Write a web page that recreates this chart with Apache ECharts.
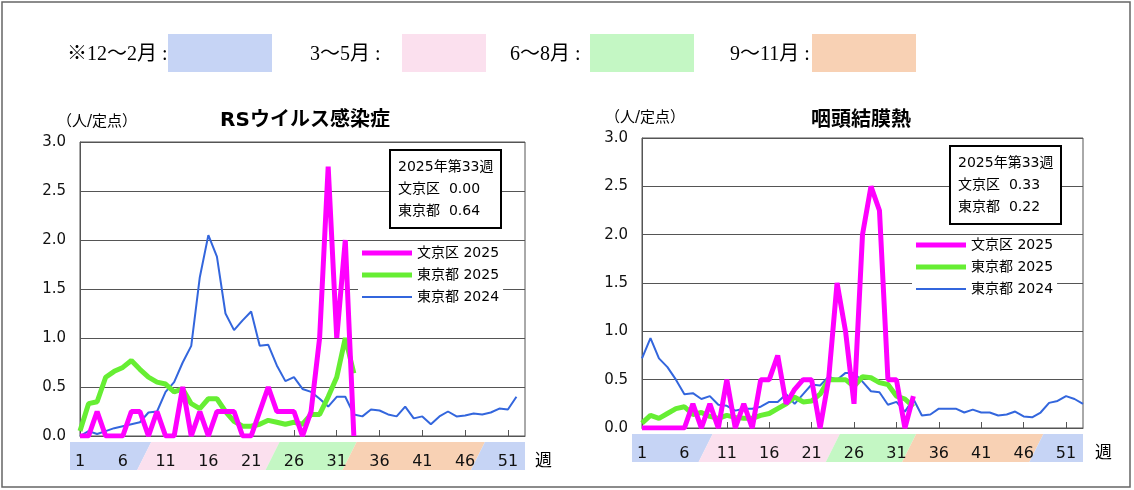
<!DOCTYPE html>
<html><head><meta charset="utf-8">
<script src="https://cdn.jsdelivr.net/npm/echarts@6/dist/echarts.min.js"></script>
<style>html,body{margin:0;padding:0;background:#fff}#c{width:1134px;height:490px}</style>
</head><body><div id="c"></div>
<script>
const tickWeeks = [1,6,11,16,21,26,31,36,41,46,51];
const rsBunkyo2025 = [0,0,0.25,0,0,0,0.25,0.25,0,0.25,0,0,0.5,0,0.25,0,0.25,0.25,0.25,0,0,0.25,0.5,0.25,0.25,0.25,0,0.25,1.0,2.75,1.0,2.0,0];
const rsTokyo2025 = [0.05,0.33,0.35,0.6,0.66,0.7,0.77,0.68,0.6,0.55,0.53,0.45,0.48,0.33,0.28,0.38,0.38,0.25,0.15,0.1,0.1,0.12,0.16,0.14,0.12,0.14,0.12,0.22,0.22,0.4,0.6,1.0,0.64];
const rsTokyo2024 = [0,0.05,0.02,0.05,0.08,0.1,0.12,0.14,0.24,0.25,0.45,0.55,0.75,0.92,1.62,2.05,1.83,1.25,1.08,1.18,1.27,0.92,0.93,0.72,0.56,0.6,0.48,0.45,0.38,0.3,0.4,0.4,0.22,0.2,0.27,0.26,0.22,0.2,0.3,0.18,0.2,0.12,0.2,0.25,0.2,0.21,0.23,0.22,0.24,0.28,0.27,0.4];
const pcBunkyo2025 = [0,0,0,0,0,0,0.25,0,0.25,0,0.5,0,0.25,0,0.5,0.5,0.75,0.25,0.4,0.5,0.5,0,0.5,1.5,1.0,0.25,2.0,2.5,2.25,0.5,0.5,0,0.33];
const pcTokyo2025 = [0.05,0.13,0.1,0.15,0.2,0.22,0.14,0.16,0.12,0.1,0.13,0.11,0.1,0.1,0.13,0.15,0.2,0.25,0.32,0.27,0.28,0.35,0.5,0.5,0.5,0.43,0.53,0.52,0.47,0.45,0.33,0.3,0.22];
const pcTokyo2024 = [0.72,0.93,0.72,0.63,0.5,0.35,0.36,0.3,0.33,0.24,0.23,0.18,0.2,0.2,0.22,0.27,0.27,0.35,0.25,0.35,0.45,0.44,0.53,0.5,0.57,0.57,0.48,0.38,0.37,0.24,0.27,0.17,0.3,0.13,0.14,0.2,0.2,0.2,0.16,0.19,0.16,0.16,0.13,0.14,0.17,0.12,0.11,0.16,0.26,0.28,0.33,0.3,0.25];
const seasonBreaks = [8.5,23.5,32.5,47.5];
const seasonColors = ['#c6d4f5','#fbe0ee','#c4f7c4','#f8d1b4','#c6d4f5'];
const names = ['文京区 2025','東京都 2025','東京都 2024'];

const pair = a => a.map((v,i)=>[i+1,v]);
const chart = echarts.init(document.getElementById('c'));
const font = 'DejaVu Sans, Noto Sans CJK JP, sans-serif';
const grids = [{left:80,right:609,top:142,height:294},{left:642,right:51,top:138,height:290}];
function xA(i){return {type:'value',gridIndex:i,min:1,max:53,
  axisLine:{show:true,lineStyle:{color:'#555'}},splitLine:{show:false},
  axisTick:{show:true,inside:true,length:6,customValues:tickWeeks.slice(1),lineStyle:{color:'#555'}},
  axisLabel:{customValues:tickWeeks,margin:18,fontSize:16,color:'#111',fontFamily:font}};}
function yA(i){return {type:'value',gridIndex:i,min:0,max:3,interval:0.5,
  axisLine:{show:true,lineStyle:{color:'#555'}},axisTick:{show:false},
  splitLine:{lineStyle:{color:'#555',width:1}},
  axisLabel:{formatter:v=>v.toFixed(1),fontSize:15,color:'#111',fontFamily:font,margin:14}};}
function ser(i,d){return [
 {name:names[0],type:'line',xAxisIndex:i,yAxisIndex:i,data:pair(d[0]),symbol:'none',lineStyle:{color:'#ff00ff',width:5},itemStyle:{color:'#ff00ff'},z:5},
 {name:names[1],type:'line',xAxisIndex:i,yAxisIndex:i,data:pair(d[1]),symbol:'none',lineStyle:{color:'#66ee33',width:5},itemStyle:{color:'#66ee33'},z:4},
 {name:names[2],type:'line',xAxisIndex:i,yAxisIndex:i,data:pair(d[2]),symbol:'none',lineStyle:{color:'#3366dd',width:2},itemStyle:{color:'#3366dd'},z:3}];}
function infoBox(left,top,a,b){return {left,top,text:'2025年第33週\n文京区  '+a+'\n東京都  '+b,
  borderColor:'#000',borderWidth:2,backgroundColor:'#fff',padding:[6,8],
  textStyle:{fontSize:14,fontWeight:'normal',color:'#000',lineHeight:22,fontFamily:font}};}
const thick='path://M0,0h1v0.01h-1zM0,2.5h50v5h-50zM0,9.99h1v0.01h-1z';
const thin='path://M0,0h1v0.01h-1zM0,4h50v2h-50zM0,9.99h1v0.01h-1z';
function legend(left,top){return {left,top,orient:'vertical',itemWidth:50,itemHeight:10,itemGap:8,
  backgroundColor:'#fff',padding:[2,4],
  data:[{name:names[0],icon:thick},{name:names[1],icon:thick},{name:names[2],icon:thin}],
  textStyle:{fontSize:14,color:'#000',fontFamily:font}};}
const hdrStyle={fontSize:20,color:'#000',fontFamily:'Liberation Serif, Noto Sans CJK JP, serif',fontWeight:'normal'};
chart.setOption({
 animation:false,
 grid:grids.map(g=>Object.assign({containLabel:false,show:true,borderColor:'#555',borderWidth:1},g)),
 xAxis:[xA(0),xA(1)], yAxis:[yA(0),yA(1)],
 title:[
  {text:'RSウイルス感染症',left:300,top:106,textAlign:'center',textStyle:{fontSize:20,fontWeight:'bold',color:'#000',fontFamily:font}},
  {text:'咽頭結膜熱',left:856,top:106,textAlign:'center',textStyle:{fontSize:20,fontWeight:'bold',color:'#000',fontFamily:font}},
  {text:'（人/定点）',left:52,top:110,textStyle:{fontSize:15,fontWeight:'normal',color:'#000',fontFamily:font}},
  {text:'（人/定点）',left:600,top:106,textStyle:{fontSize:15,fontWeight:'normal',color:'#000',fontFamily:font}},
  infoBox(390,150,'0.00','0.64'), infoBox(950,146,'0.33','0.22'),
  {text:'週',left:530,top:448,textStyle:{fontSize:17,fontWeight:'normal',color:'#000',fontFamily:font}},
  {text:'週',left:1090,top:440,textStyle:{fontSize:17,fontWeight:'normal',color:'#000',fontFamily:font}},
  {text:'※12〜2月 :',left:62,top:40,textStyle:hdrStyle},
  {text:'3〜5月 :',left:305,top:40,textStyle:hdrStyle},
  {text:'6〜8月 :',left:505,top:40,textStyle:hdrStyle},
  {text:'9〜11月 :',left:725,top:40,textStyle:hdrStyle}
 ],
 legend:[legend(358,244),legend(912,236)],
 series:[...ser(0,[rsBunkyo2025,rsTokyo2025,rsTokyo2024]),...ser(1,[pcBunkyo2025,pcTokyo2025,pcTokyo2024])]
});
const gfx=[{type:'rect',shape:{x:2,y:2,width:1128,height:485},style:{fill:'none',stroke:'#666',lineWidth:1.5},z:-10}];
[[168,272],[402,486],[590,694],[812,916]].forEach((r,k)=>gfx.push({type:'rect',shape:{x:r[0],y:34,width:r[1]-r[0],height:38},style:{fill:seasonColors[k]},z:-5}));
grids.forEach((g,i)=>{
  const px=w=>chart.convertToPixel({xAxisIndex:i},w);
  const y0=g.top+g.height+6, y1=y0+28, s=7;
  const edges=[px(1)-10,...seasonBreaks.map(px),px(53)];
  for(let k=0;k<5;k++){
    const l=edges[k], r=edges[k+1];
    const pts=[[k===0?l:l+s,y0],[k===4?r:r+s,y0],[k===4?r:r-s,y1],[k===0?l:l-s,y1]];
    gfx.push({type:'polygon',shape:{points:pts},style:{fill:seasonColors[k]},z:-5});
  }
});
chart.setOption({graphic:gfx});
</script></body></html>
